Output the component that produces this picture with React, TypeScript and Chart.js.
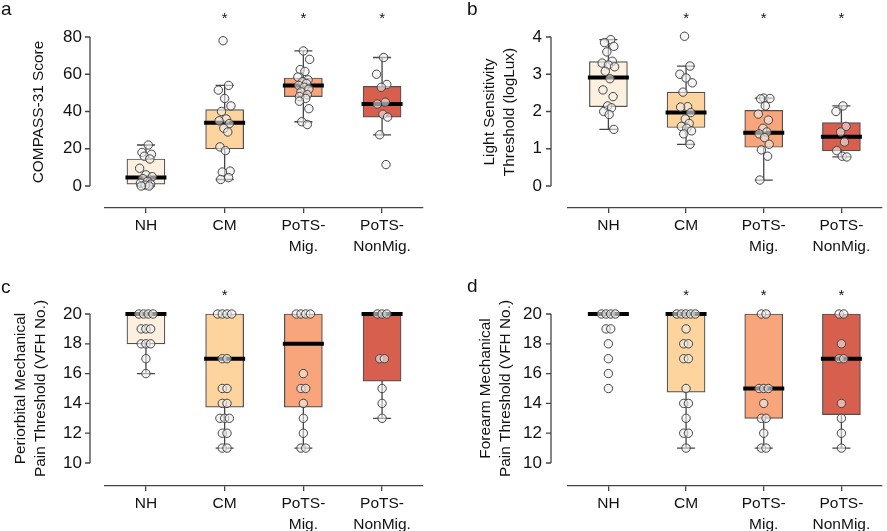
import { useEffect, useRef } from 'react';
import { Chart, registerables } from 'chart.js';

Chart.register(...registerables);
Chart.defaults.font.family = '"Liberation Sans", Arial, Helvetica, sans-serif';

// ---------- shared ----------
const CATEGORY_LABELS = [['NH'], ['CM'], ['PoTS-', 'Mig.'], ['PoTS-', 'NonMig.']];
const BOX_COLORS = ['#FEF0DE', '#FDD49E', '#F8A57B', '#D6604D'];

// ---------- panel a : COMPASS-31 ----------
const A_NH = [22, 18, 17, 16, 14.5, 9.5, 6, 5, 4, 2.5, 1.5, 1, 0.5, 0, 0];
const A_CM = [78, 54, 51.5, 47, 43, 40, 36, 35, 33.5, 31, 29, 21, 19, 8, 7.5, 4.5, 3.5];
const A_MIG = [72.5, 68, 62.5, 61.5, 58.5, 57, 56, 55, 54, 53, 52, 50.5, 49, 48, 47, 45.5, 41.5, 34.5, 33];
const A_NONMIG = [69, 60, 54.5, 53, 45, 44, 38.5, 37, 27.5, 11.5];
const A_Q1 = [1, 20, 48, 37];
const A_MED = [4.5, 34, 54, 44];
const A_Q3 = [14.5, 41, 58, 53.5];
const A_WLO = [0, 3.5, 34.5, 27.5];
const A_WHI = [22, 54, 72.5, 69];
const A_STARS = ['', '*', '*', '*'];
const A_TICKS = [0, 20, 40, 60, 80];

// ---------- panel b : light sensitivity ----------
const B_NH = [3.93, 3.85, 3.75, 3.6, 3.35, 3.3, 3.25, 3.2, 3.08, 2.88, 2.58, 2.4, 2.15, 2.1, 2.0, 1.92, 1.52];
const B_CM = [4.02, 3.22, 3.0, 2.9, 2.77, 2.52, 2.13, 2.12, 1.97, 1.8, 1.68, 1.6, 1.55, 1.48, 1.4, 1.12];
const B_MIG = [2.36, 2.35, 2.34, 2.15, 1.93, 1.77, 1.55, 1.45, 1.4, 1.3, 1.12, 0.97, 0.8, 0.16];
const B_NONMIG = [2.15, 2.0, 1.6, 1.45, 1.18, 0.95, 0.8, 0.78];
const B_Q1 = [2.13, 1.57, 1.04, 0.94];
const B_MED = [2.91, 1.97, 1.43, 1.32];
const B_Q3 = [3.34, 2.52, 2.03, 1.7];
const B_WLO = [1.52, 1.12, 0.16, 0.78];
const B_WHI = [3.93, 3.22, 2.36, 2.15];
const B_STARS = ['', '*', '*', '*'];
const B_TICKS = [0, 1, 2, 3, 4];

// ---------- panel c : periorbital ----------
const C_NH = [20, 20, 20, 20, 19, 19, 19, 18, 18, 18, 17, 16];
const C_CM = [20, 20, 20, 20, 17, 17, 15, 15, 14, 14, 13, 13, 13, 12, 12, 11, 11];
const C_MIG = [20, 20, 20, 20, 16, 15, 15, 14, 13, 12, 11, 11];
const C_NONMIG = [20, 20, 20, 17, 17, 15, 14, 13];
const C_Q1 = [18, 13.75, 13.75, 15.5];
const C_MED = [20, 17, 18, 20];
const C_Q3 = [20, 20, 20, 20];
const C_WLO = [16, 11, 11, 13];
const C_WHI = [20, 20, 20, 20];
const C_STARS = ['', '*', '', ''];
const C_TICKS = [10, 12, 14, 16, 18, 20];

// ---------- panel d : forearm ----------
const D_NH = [20, 20, 20, 20, 19, 19, 18, 17, 16, 15];
const D_CM = [20, 20, 20, 20, 20, 19, 18, 18, 17, 17, 15, 14, 14, 13, 12, 12, 11];
const D_MIG = [20, 20, 15, 15, 15, 14, 13, 13, 12, 11, 11];
const D_NONMIG = [20, 20, 18, 17, 17, 14, 13, 12, 11];
const D_Q1 = [20, 14.75, 13, 13.25];
const D_MED = [20, 20, 15, 17];
const D_Q3 = [20, 20, 20, 20];
const D_WLO = [20, 11, 11, 11];
const D_WHI = [20, 20, 20, 20];
const D_STARS = ['', '*', '*', '*'];
const D_TICKS = [10, 12, 14, 16, 18, 20];

// horizontal spread pattern for points (layout only, in category units)
const JITTER = [0.03, -0.05, 0.07, -0.02, 0.05, -0.08, 0.0, 0.08, -0.04, 0.02, -0.07, 0.06, -0.01, 0.04, -0.06, 0.01, 0.07, -0.03, 0.05, -0.05];

type Panel = {
  letter: string; title: string[]; ticks: number[]; groups: number[][];
  q1: number[]; med: number[]; q3: number[]; wLo: number[]; wHi: number[];
  stars: string[]; discrete: boolean;
  // layout
  left: number; top: number; w: number; h: number; padTop: number; padRight: number;
  yWidth: number; xHeight: number; yMin: number; yMax: number; titlePad: number;
  labelPad: number; axisGap: number; letterX: number; letterY: number; starDy: number;
};

const PANELS: Panel[] = [
  {
    letter: 'a', title: ['COMPASS-31 Score'], ticks: A_TICKS, groups: [A_NH, A_CM, A_MIG, A_NONMIG],
    q1: A_Q1, med: A_MED, q3: A_Q3, wLo: A_WLO, wHi: A_WHI, stars: A_STARS, discrete: false,
    left: 0, top: 0, w: 440, h: 265, padTop: 16, padRight: 17, yWidth: 105, xHeight: 57,
    yMin: -11.81, yMax: 91.27, titlePad: 29.25, labelPad: 23, axisGap: 15, letterX: 1, letterY: 15, starDy: 3,
  },
  {
    letter: 'b', title: ['Light Sensitivity', 'Threshold (logLux)'], ticks: B_TICKS, groups: [B_NH, B_CM, B_MIG, B_NONMIG],
    q1: B_Q1, med: B_MED, q3: B_Q3, wLo: B_WLO, wHi: B_WHI, stars: B_STARS, discrete: false,
    left: 440, top: 0, w: 447, h: 265, padTop: 16, padRight: 0, yWidth: 128, xHeight: 57,
    yMin: -0.5906, yMax: 4.564, titlePad: 40.25, labelPad: 26, axisGap: 17, letterX: 27, letterY: 15, starDy: 3,
  },
  {
    letter: 'c', title: ['Periorbital Mechanical', 'Pain Threshold (VFH No.)'], ticks: C_TICKS, groups: [C_NH, C_CM, C_MIG, C_NONMIG],
    q1: C_Q1, med: C_MED, q3: C_Q3, wLo: C_WLO, wHi: C_WHI, stars: C_STARS, discrete: true,
    left: 0, top: 265, w: 440, h: 266, padTop: 26, padRight: 17, yWidth: 105, xHeight: 45,
    yMin: 8.456, yMax: 21.544, titlePad: 11.25, labelPad: 23, axisGap: 15, letterX: 1, letterY: 28, starDy: 5,
  },
  {
    letter: 'd', title: ['Forearm Mechanical', 'Pain Threshold (VFH No.)'], ticks: D_TICKS, groups: [D_NH, D_CM, D_MIG, D_NONMIG],
    q1: D_Q1, med: D_MED, q3: D_Q3, wLo: D_WLO, wHi: D_WHI, stars: D_STARS, discrete: true,
    left: 440, top: 265, w: 447, h: 266, padTop: 26, padRight: 0, yWidth: 128, xHeight: 45,
    yMin: 8.456, yMax: 21.544, titlePad: 36.25, labelPad: 26, axisGap: 17, letterX: 27, letterY: 27, starDy: 5,
  },
];

function buildPoints(p: Panel) {
  const pts: { x: number; y: number }[] = [];
  p.groups.forEach((vals, gi) => {
    if (p.discrete) {
      const seen: Record<string, number> = {};
      vals.forEach((v) => {
        const n = vals.filter((u) => u === v).length;
        const k = seen[v] ?? 0;
        seen[v] = k + 1;
        pts.push({ x: gi + (k - (n - 1) / 2) * 0.06, y: v });
      });
    } else {
      vals.forEach((v, j) => pts.push({ x: gi + JITTER[(j + gi * 3) % JITTER.length], y: v }));
    }
  });
  return pts;
}

function makePlugin(p: Panel) {
  return {
    id: 'boxExtras' + p.letter,
    afterDatasetDraw(chart: any, args: any) {
      if (args.index !== 1) return;
      const { ctx } = chart;
      const xs = chart.scales.x;
      const ys = chart.scales.y;
      ctx.save();
      ctx.strokeStyle = '#444';
      ctx.lineWidth = 1.3;
      for (let i = 0; i < p.q1.length; i++) {
        const cx = xs.getPixelForValue(i);
        ctx.beginPath();
        if (p.wHi[i] > p.q3[i]) {
          ctx.moveTo(cx, ys.getPixelForValue(p.q3[i]));
          ctx.lineTo(cx, ys.getPixelForValue(p.wHi[i]));
          ctx.moveTo(cx - 9, ys.getPixelForValue(p.wHi[i]));
          ctx.lineTo(cx + 9, ys.getPixelForValue(p.wHi[i]));
        }
        if (p.wLo[i] < p.q1[i]) {
          ctx.moveTo(cx, ys.getPixelForValue(p.q1[i]));
          ctx.lineTo(cx, ys.getPixelForValue(p.wLo[i]));
          ctx.moveTo(cx - 9, ys.getPixelForValue(p.wLo[i]));
          ctx.lineTo(cx + 9, ys.getPixelForValue(p.wLo[i]));
        }
        ctx.stroke();
      }
      ctx.strokeStyle = '#000';
      ctx.lineWidth = 4;
      for (let i = 0; i < p.med.length; i++) {
        const cx = xs.getPixelForValue(i);
        const my = ys.getPixelForValue(p.med[i]);
        ctx.beginPath();
        ctx.moveTo(cx - 20.5, my);
        ctx.lineTo(cx + 20.5, my);
        ctx.stroke();
      }
      ctx.restore();
    },
    afterDraw(chart: any) {
      const { ctx, chartArea } = chart;
      const xs = chart.scales.x;
      const ys = chart.scales.y;
      ctx.save();
      // detached y axis
      const ax = chartArea.left - p.axisGap;
      const t0 = ys.getPixelForValue(p.ticks[0]);
      const t1 = ys.getPixelForValue(p.ticks[p.ticks.length - 1]);
      ctx.strokeStyle = '#444';
      ctx.lineWidth = 1.3;
      ctx.beginPath();
      ctx.moveTo(ax, t0);
      ctx.lineTo(ax, t1);
      p.ticks.forEach((v) => {
        const ty = ys.getPixelForValue(v);
        ctx.moveTo(ax, ty);
        ctx.lineTo(ax - 5, ty);
      });
      ctx.stroke();
      // significance stars
      ctx.fillStyle = '#111';
      ctx.font = '15px "Liberation Sans", Arial, sans-serif';
      ctx.textAlign = 'center';
      ctx.textBaseline = 'middle';
      p.stars.forEach((s, i) => {
        if (s) ctx.fillText(s, xs.getPixelForValue(i), chartArea.top + p.starDy);
      });
      // panel letter
      ctx.font = '19px "Liberation Sans", Arial, sans-serif';
      ctx.textAlign = 'left';
      ctx.textBaseline = 'alphabetic';
      ctx.fillText(p.letter, p.letterX, p.letterY);
      ctx.restore();
    },
  };
}

function PanelChart({ p }: { p: Panel }) {
  const ref = useRef<HTMLCanvasElement | null>(null);
  useEffect(() => {
    if (!ref.current) return;
    const boxes = p.q1.map((q, i) => ({ x: i, y: [q, p.q3[i]] }));
    const chart = new Chart(ref.current, {
      type: 'bar',
      data: {
        datasets: [
          {
            type: 'scatter',
            data: buildPoints(p),
            pointRadius: 4.2,
            pointHoverRadius: 4.2,
            pointBackgroundColor: 'rgba(238,238,238,0.6)',
            pointBorderColor: '#444',
            pointBorderWidth: 1,
            order: 0,
          } as any,
          {
            type: 'bar',
            data: boxes as any,
            backgroundColor: BOX_COLORS,
            borderColor: '#505050',
            borderWidth: 1.2,
            borderSkipped: false,
            barThickness: 38,
            grouped: false,
            order: 1,
          } as any,
        ],
      },
      options: {
        animation: false,
        responsive: false,
        maintainAspectRatio: false,
        layout: { padding: { left: 0, right: p.padRight, top: p.padTop, bottom: 0 } },
        plugins: { legend: { display: false }, tooltip: { enabled: false } },
        scales: {
          x: {
            type: 'linear',
            min: -0.52,
            max: 3.52,
            offset: false,
            afterBuildTicks: (s: any) => { s.ticks = [0, 1, 2, 3].map((v) => ({ value: v })); },
            afterFit: (s: any) => { s.height = p.xHeight; s.paddingLeft = 0; s.paddingRight = 0; s.paddingTop = 0; s.paddingBottom = 0; },
            ticks: {
              autoSkip: false,
              maxRotation: 0,
              minRotation: 0,
              padding: 3,
              color: '#111',
              font: { size: 15.5, lineHeight: 1.3 },
              callback: (v: any) => CATEGORY_LABELS[Math.round(Number(v))] ?? '',
            },
            grid: { display: true, drawOnChartArea: false, drawTicks: true, tickLength: 5, color: '#444', lineWidth: 1.3, offset: false },
            border: { display: true, color: '#444', width: 1.3 },
          },
          y: {
            type: 'linear',
            min: p.yMin,
            max: p.yMax,
            afterBuildTicks: (s: any) => { s.ticks = p.ticks.map((v) => ({ value: v })); },
            afterFit: (s: any) => { s.width = p.yWidth; s.paddingTop = 0; s.paddingBottom = 0; s.paddingLeft = 0; s.paddingRight = 0; },
            ticks: { padding: p.labelPad, color: '#111', font: { size: 17 } },
            grid: { display: false, drawTicks: false },
            border: { display: false },
            title: {
              display: true,
              text: p.title,
              color: '#111',
              font: { size: 15.4, lineHeight: 1.27 },
              padding: { top: p.titlePad, bottom: 0 },
            },
          },
        },
      } as any,
      plugins: [makePlugin(p)],
    });
    return () => chart.destroy();
  }, [p]);
  return (
    <canvas
      ref={ref}
      width={p.w}
      height={p.h}
      style={{ position: 'absolute', left: p.left, top: p.top, width: p.w, height: p.h }}
    />
  );
}

export default function App() {
  return (
    <div style={{ position: 'absolute', left: 0, top: 0, width: 887, height: 531, background: '#fff' }}>
      {PANELS.map((p) => (
        <PanelChart key={p.letter} p={p} />
      ))}
    </div>
  );
}
